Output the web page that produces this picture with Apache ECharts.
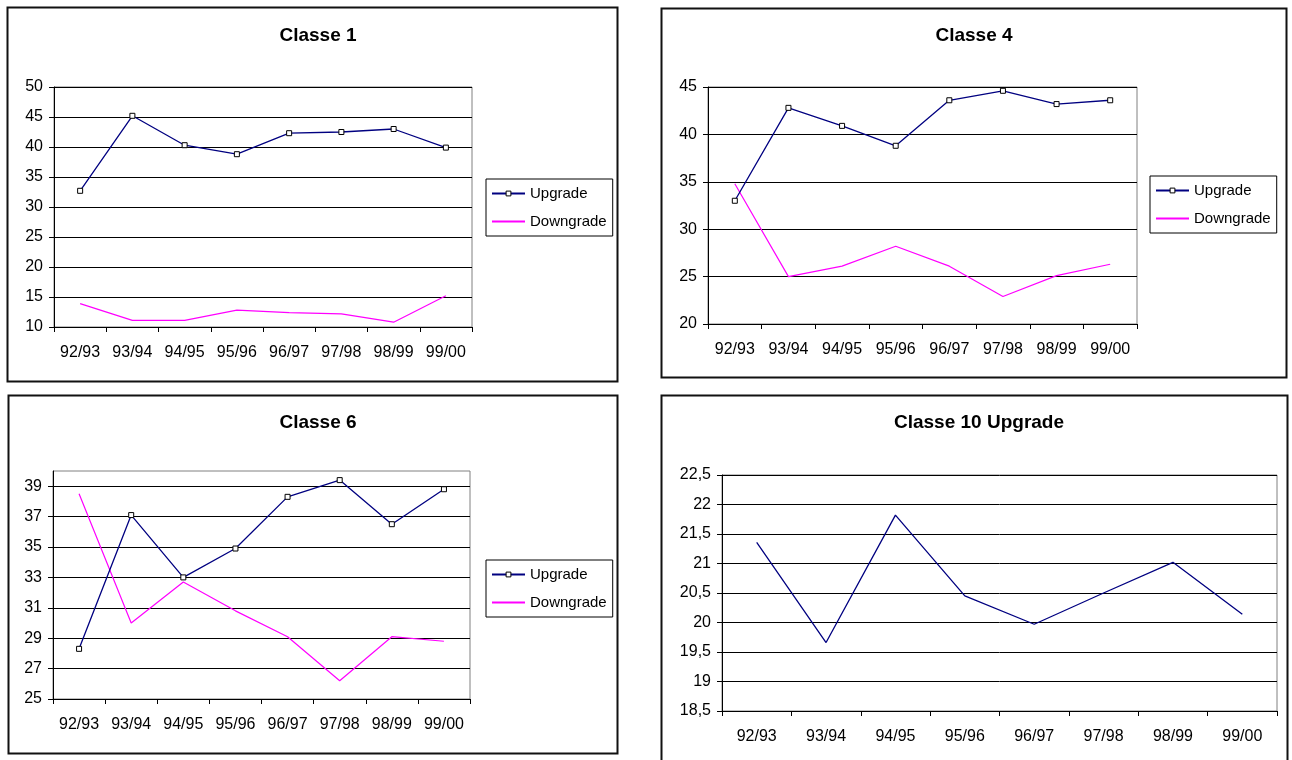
<!DOCTYPE html>
<html>
<head>
<meta charset="utf-8">
<script src="https://cdn.jsdelivr.net/npm/echarts@6/dist/echarts.min.js"></script>
<style>
  html, body { margin: 0; padding: 0; background: #fff; }
  #chart { width: 1292px; height: 760px; }
</style>
</head>
<body>
<div id="chart"></div>
<script>
// Seasons on the category axis
const seasons = ['92/93', '93/94', '94/95', '95/96', '96/97', '97/98', '98/99', '99/00'];

// Classe 1
const classe1Upgrade   = [32.7, 45.2, 40.3, 38.8, 42.3, 42.5, 43.0, 39.9];
const classe1Downgrade = [13.9, 11.1, 11.1, 12.8, 12.4, 12.2, 10.8, 15.2];

// Classe 4
const classe4Upgrade   = [33.0, 42.8, 40.9, 38.8, 43.6, 44.6, 43.2, 43.6];
const classe4Downgrade = [34.8, 25.0, 26.1, 28.2, 26.1, 22.9, 25.1, 26.3];

// Classe 6
const classe6Upgrade   = [28.3, 37.1, 33.0, 34.9, 38.3, 39.4, 36.5, 38.8];
const classe6Downgrade = [38.5, 30.0, 32.7, 30.8, 29.1, 26.2, 29.1, 28.8];
const classe6Ticks     = [25, 27, 29, 31, 33, 35, 37, 39];

// Classe 10 (upgrade only)
const classe10Upgrade  = [21.36, 19.66, 21.82, 20.45, 19.97, 20.5, 21.02, 20.14];

const FONT = 'Liberation Sans, Arial, sans-serif';
const NAVY = '#000080';
const MAGENTA = '#ff00ff';

const chart = echarts.init(document.getElementById('chart'), null, { renderer: 'canvas' });

// Panel layout: frame box, plot grid, title anchor, legend anchor
const panels = [
  { frame: [7, 7, 610, 374],   grid: { left: 54, top: 87, width: 418, height: 240 },
    title: 'Classe 1', tx: 313, ty: 21, legend: { left: 486, top: 179 },
    y: { min: 10, max: 50, interval: 5 }, up: classe1Upgrade, down: classe1Downgrade },
  { frame: [661, 8, 625, 369], grid: { left: 708, top: 87, width: 429, height: 237 },
    title: 'Classe 4', tx: 969, ty: 21, legend: { left: 1150, top: 176 },
    y: { min: 20, max: 45, interval: 5 }, up: classe4Upgrade, down: classe4Downgrade },
  { frame: [8, 395, 609, 358], grid: { left: 53, top: 471, width: 417, height: 228 },
    title: 'Classe 6', tx: 313, ty: 408, legend: { left: 486, top: 560 },
    y: { min: 25, max: 40, ticks: classe6Ticks }, up: classe6Upgrade, down: classe6Downgrade },
  { frame: [661, 395, 626, 380], grid: { left: 722, top: 475, width: 555, height: 236 },
    title: 'Classe 10 Upgrade', tx: 974, ty: 408, legend: null,
    y: { min: 18.5, max: 22.5, interval: 0.5, comma: true }, up: classe10Upgrade, down: null }
];

const option = {
  backgroundColor: '#fff',
  animation: false,
  textStyle: { fontFamily: FONT, color: '#000' },
  title: [], grid: [], xAxis: [], yAxis: [], series: [], legend: [],
  graphic: []
};

panels.forEach((p, i) => {
  option.graphic.push({
    type: 'rect', z: -10,
    shape: { x: p.frame[0] + 0.5, y: p.frame[1] + 0.5, width: p.frame[2], height: p.frame[3] },
    style: { fill: '#fff', stroke: '#111', lineWidth: 2 }
  });

  option.title.push({
    text: p.title, left: p.tx, top: p.ty, textAlign: 'center',
    textStyle: { fontFamily: FONT, fontSize: 19, fontWeight: 'bold', color: '#000' }
  });

  option.grid.push(Object.assign({
    show: true, borderColor: '#808080', borderWidth: 1, backgroundColor: '#fff'
  }, p.grid));

  option.xAxis.push({
    type: 'category', gridIndex: i, data: seasons, boundaryGap: true,
    axisLine: { lineStyle: { color: '#000', width: 1 } },
    axisTick: { show: true, length: 5, lineStyle: { color: '#000' } },
    axisLabel: { color: '#000', fontFamily: FONT, fontSize: 16, margin: 18, interval: 0 },
    splitLine: { show: false }
  });

  const yAxis = {
    type: 'value', gridIndex: i, min: p.y.min, max: p.y.max,
    axisLine: { show: true, lineStyle: { color: '#000', width: 1 } },
    axisTick: { show: true, length: 5, lineStyle: { color: '#000' } },
    axisLabel: {
      color: '#000', fontFamily: FONT, fontSize: 16, margin: 11,
      formatter: p.y.comma ? (v) => String(v).replace('.', ',') : (v) => String(v)
    },
    splitLine: { show: true, lineStyle: { color: '#000', width: 1 } }
  };
  if (p.y.ticks) {
    yAxis.axisTick.customValues = p.y.ticks;
    yAxis.axisLabel.customValues = p.y.ticks;
  } else {
    yAxis.interval = p.y.interval;
  }
  option.yAxis.push(yAxis);

  option.series.push({
    name: 'Upgrade', type: 'line', xAxisIndex: i, yAxisIndex: i, data: p.up,
    symbol: p.down ? 'rect' : 'none', symbolSize: 5, showSymbol: !!p.down,
    lineStyle: { color: NAVY, width: 1.3 },
    itemStyle: { color: '#fff', borderColor: '#000', borderWidth: 1 },
    emphasis: { disabled: true }, z: 3
  });

  if (p.down) {
    option.series.push({
      name: 'Downgrade', type: 'line', xAxisIndex: i, yAxisIndex: i, data: p.down,
      symbol: 'none', showSymbol: false,
      lineStyle: { color: MAGENTA, width: 1.2 },
      itemStyle: { color: MAGENTA },
      emphasis: { disabled: true }, z: 2
    });
  }

  if (p.legend) {
    option.legend.push({
      orient: 'vertical', left: p.legend.left, top: p.legend.top,
      data: [
        { name: 'Upgrade', itemStyle: { color: '#fff', borderColor: '#000', borderWidth: 1 } },
        { name: 'Downgrade', itemStyle: { color: 'rgba(0,0,0,0)', borderColor: 'rgba(0,0,0,0)', borderWidth: 0 } }
      ],
      borderColor: '#000', borderWidth: 1, backgroundColor: '#fff',
      padding: [6, 6, 6, 5], itemGap: 11, itemWidth: 33, itemHeight: 6,
      selectedMode: false,
      textStyle: { fontFamily: FONT, fontSize: 15, color: '#000', lineHeight: 17 }
    });
  }
});

chart.setOption(option);
</script>
</body>
</html>
